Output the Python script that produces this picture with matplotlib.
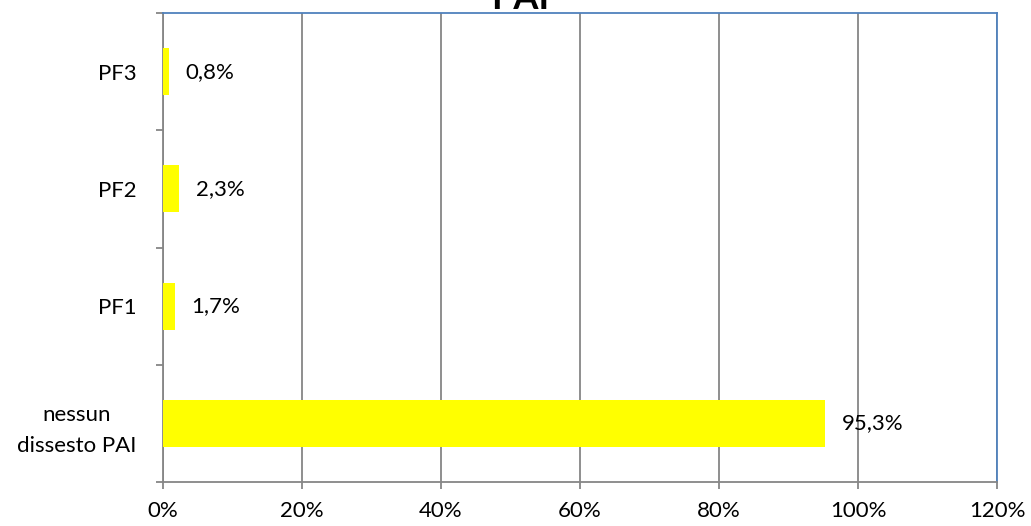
import matplotlib.pyplot as plt

# data
categories = ["nessun\ndissesto PAI", "PF1", "PF2", "PF3"]
values = [95.3, 1.7, 2.3, 0.8]
value_labels = ["95,3%", "1,7%", "2,3%", "0,8%"]
x_ticks = [0, 20, 40, 60, 80, 100, 120]
x_tick_labels = ["0%", "20%", "40%", "60%", "80%", "100%", "120%"]

plt.rcParams['font.family'] = ['Lato', 'DejaVu Sans']

fig = plt.figure(figsize=(10.31, 5.26), dpi=100)
ax = fig.add_axes([163 / 1031, 1 - 482 / 526, (997 - 163) / 1031, (482 - 13) / 526])

pos = list(range(len(categories)))
ax.barh(pos, values, height=0.4, color='#FFFF00', zorder=3)

for p, v, lab in zip(pos, values, value_labels):
    ax.text(v + 2.4, p, lab, va='center', ha='left', fontsize=16, zorder=4)

ax.set_xlim(0, 120)
ax.set_ylim(-0.5, len(categories) - 0.5)
ax.set_xticks(x_ticks)
ax.set_xticklabels(x_tick_labels, fontsize=16)
ax.set_yticks(pos)
ax.set_yticklabels(categories, fontsize=16, ha='right', multialignment='center', linespacing=1.65)
ax.tick_params(axis='y', length=0, pad=19)
ax.tick_params(axis='x', length=5, width=1.3, color='#868686', pad=9, direction='out')

# category boundary ticks on the left
ax.set_yticks([p - 0.5 for p in pos] + [len(categories) - 0.5], minor=True)
ax.tick_params(axis='y', which='minor', length=5, width=1.3, color='#868686')

ax.grid(axis='x', color='#868686', linewidth=1.3, zorder=0)

ax.spines['left'].set_color('#868686')
ax.spines['left'].set_linewidth(1.3)
ax.spines['bottom'].set_color('#868686')
ax.spines['bottom'].set_linewidth(1.3)
ax.spines['top'].set_color('#4F81BD')
ax.spines['top'].set_linewidth(1.3)
ax.spines['right'].set_color('#4F81BD')
ax.spines['right'].set_linewidth(1.3)

# title is partly outside the figure in the reference as well
fig.text(0.505, 1 - 9 / 526, "PAI", ha='center', va='baseline', fontsize=26, fontweight='bold')

fig.savefig("out.png", dpi=100)
